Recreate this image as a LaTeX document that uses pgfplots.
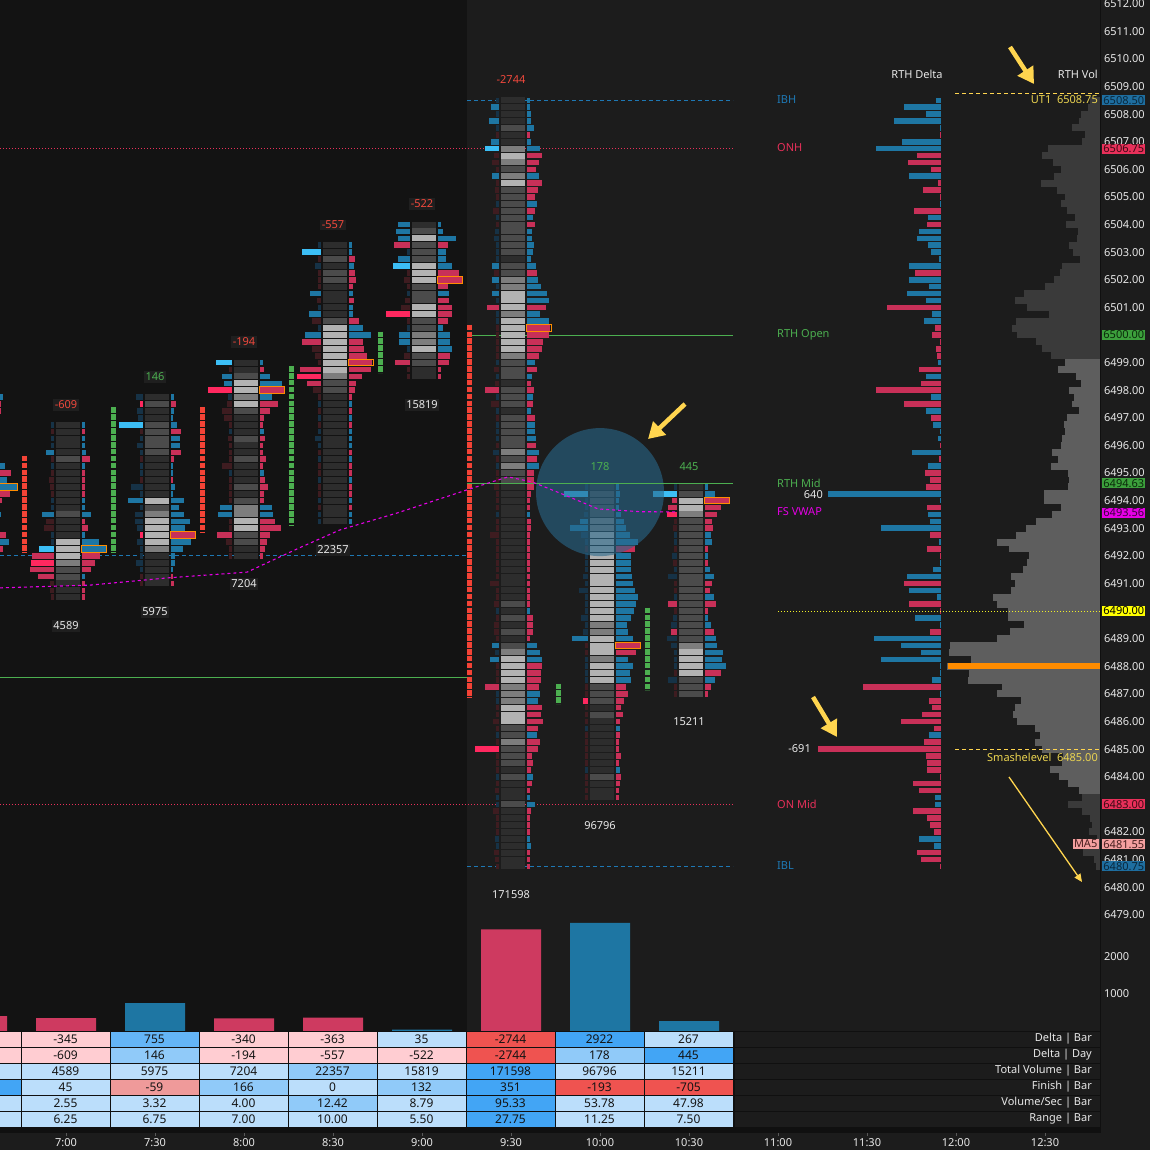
\documentclass[border=0pt]{standalone}
\usepackage{pgfplots}
\pgfplotsset{compat=1.18}
\usepackage{pgfplotstable}
\usepackage{fontspec}
\setmainfont{Noto Sans}
\usetikzlibrary{arrows.meta}

\definecolor{bgA}{RGB}{28,28,28}
\definecolor{bgB}{RGB}{19,19,19}
\definecolor{bgT}{RGB}{16,16,16}
\definecolor{cBlue}{RGB}{30,118,163}
\definecolor{cRed}{RGB}{200,48,88}
\definecolor{cRedV}{RGB}{206,58,96}
\definecolor{cGreen}{RGB}{76,175,80}
\definecolor{cMark}{RGB}{244,67,54}
\definecolor{cMag}{RGB}{230,0,230}
\definecolor{cYel}{RGB}{255,213,79}
\definecolor{cYtxt}{RGB}{235,212,80}
\definecolor{cYline}{RGB}{240,240,40}
\definecolor{cIB}{RGB}{30,120,180}
\definecolor{cON}{RGB}{232,48,90}
\definecolor{cOrg}{RGB}{255,140,0}
\definecolor{txt}{RGB}{232,232,232}
\definecolor{pDark}{RGB}{58,58,58}
\definecolor{pLight}{RGB}{94,94,94}
\definecolor{cPink}{RGB}{255,205,210}
\definecolor{cPale}{RGB}{187,222,251}
\definecolor{cMid}{RGB}{144,202,249}
\definecolor{cBl}{RGB}{100,181,246}
\definecolor{cStr}{RGB}{66,165,245}
\definecolor{cRd}{RGB}{239,83,80}
\definecolor{cSal}{RGB}{239,154,154}
\definecolor{cNegT}{RGB}{240,72,60}
\definecolor{lblBg}{RGB}{31,31,31}
\definecolor{bxBlue}{RGB}{30,110,160}
\definecolor{bxRed}{RGB}{232,48,90}
\definecolor{bxGreen}{RGB}{60,160,60}
\definecolor{bxMag}{RGB}{230,0,230}
\definecolor{bxYel}{RGB}{255,255,0}
\definecolor{bxSal}{RGB}{244,160,160}
\newcommand{\fnt}{\fontsize{11pt}{13pt}\selectfont}
\newcommand{\tfnt}{\fontsize{12pt}{14pt}\selectfont}

% footprint tables: price, bid length, bid colour, cell shade, ask length, ask colour
\pgfplotstableread{
p bl bc g al ac
6497.75 0 4 0 10 6
6497.50 0 4 0 8 7
6497.25 0 4 0 8 7
6495.25 0 4 0 12 6
6495.00 0 4 0 18 7
6494.75 0 4 0 14 6
6494.50 0 4 0 24 6
6494.25 0 4 0 17 7
6494.00 0 4 0 9 7
6493.50 0 4 0 8 6
6492.75 0 4 0 13 7
6492.50 0 4 0 16 6
6492.25 0 4 0 10 7
}\tZ
\pgfplotstableread{
p bl bc g al ac
6496.75 3 5 0 3 6
6496.50 3 4 0 3 7
6496.25 3 5 0 3 6
6496.00 3 5 0 3 6
6495.75 8 6 0 4 6
6495.50 3 4 1 8 7
6495.25 3 5 0 3 6
6495.00 3 4 0 3 7
6494.75 5 4 0 3 7
6494.50 4 4 0 3 7
6494.25 3 4 0 3 7
6494.00 3 5 0 3 6
6493.75 3 5 0 3 6
6493.50 12 6 1 9 6
6493.25 8 4 0 3 7
6493.00 10 4 0 6 7
6492.75 3 5 0 3 6
6492.50 3 5 3 17 6
6492.25 15 8 3 24 6
6492.00 22 7 3 18 7
6491.75 23 9 2 13 7
6491.50 24 7 1 9 7
6491.25 16 7 1 3 6
6491.00 4 4 0 3 7
6490.75 4 4 0 3 7
6490.50 3 4 0 3 7
}\tA
\pgfplotstableread{
p bl bc g al ac
6497.75 7 5 0 3 6
6497.50 3 9 1 5 7
6497.25 6 5 0 3 6
6497.00 5 5 0 2 6
6496.75 24 8 1 6 6
6496.50 3 4 1 10 7
6496.25 3 5 1 9 6
6496.00 6 5 1 9 6
6495.75 3 5 1 10 7
6495.50 3 4 0 3 7
6495.25 3 5 0 2 6
6495.00 3 5 0 2 6
6494.75 3 4 0 2 7
6494.50 12 5 0 4 6
6494.25 3 5 0 2 6
6494.00 15 6 3 13 6
6493.75 3 5 1 8 6
6493.50 8 5 2 13 6
6493.25 8 5 3 19 6
6493.00 6 5 3 14 6
6492.75 3 9 3 24 7
6492.50 6 5 3 20 6
6492.25 3 5 2 12 6
6492.00 3 5 0 4 6
6491.75 7 5 0 4 6
6491.50 3 5 0 2 6
6491.25 3 4 0 2 7
6491.00 3 4 0 3 7
}\tB
\pgfplotstableread{
p bl bc g al ac
6499.00 16 8 0 3 6
6498.75 3 4 0 4 7
6498.50 10 6 1 10 6
6498.25 8 6 3 22 6
6498.00 24 9 3 24 7
6497.75 4 5 2 12 6
6497.50 5 4 3 18 7
6497.25 10 4 1 10 7
6497.00 8 4 0 4 7
6496.75 3 4 0 3 7
6496.50 3 5 0 4 6
6496.25 4 4 1 5 7
6496.00 3 4 0 3 7
6495.75 3 4 0 3 7
6495.50 3 4 1 6 7
6495.25 10 4 0 3 7
6495.00 3 5 0 4 6
6494.75 3 4 0 5 7
6494.50 3 4 1 8 7
6494.25 3 4 0 4 7
6494.00 3 4 1 4 7
6493.75 12 6 2 12 6
6493.50 14 6 2 13 6
6493.25 3 4 3 15 7
6493.00 3 4 3 21 7
6492.75 15 7 1 10 7
6492.50 6 4 1 7 7
6492.25 3 4 0 5 7
6492.00 3 4 0 3 7
}\tC
\pgfplotstableread{
p bl bc g al ac
6503.25 3 5 0 3 6
6503.00 19 8 0 3 6
6502.75 3 4 1 6 7
6502.50 6 5 0 5 6
6502.25 3 4 1 6 7
6502.00 3 4 1 7 7
6501.75 3 4 0 4 7
6501.50 11 6 0 4 6
6501.25 4 4 0 5 7
6501.00 3 5 0 4 6
6500.75 12 6 0 4 6
6500.50 9 4 1 10 7
6500.25 3 5 3 14 6
6500.00 16 6 3 22 6
6499.75 19 7 3 14 7
6499.50 9 4 3 15 7
6499.25 6 4 3 18 7
6499.00 3 4 3 23 7
6498.75 21 7 3 22 7
6498.50 24 9 2 13 7
6498.25 14 7 1 7 7
6498.00 8 4 1 6 7
6497.75 3 4 0 3 7
6497.50 3 5 0 3 6
6497.25 3 4 0 3 7
6497.00 3 5 0 3 6
6496.75 3 4 0 3 7
6496.50 3 5 0 3 6
6496.25 6 5 0 3 6
6496.00 3 5 0 3 6
6495.75 3 4 0 3 7
6495.50 3 5 0 3 6
6495.25 3 4 0 3 7
6495.00 3 4 0 3 7
6494.75 3 5 0 3 6
6494.50 3 4 0 3 7
6494.25 3 4 0 3 7
6494.00 3 5 0 3 6
6493.75 3 4 0 3 7
6493.50 3 5 0 3 6
6493.25 3 5 0 3 6
}\tD
\pgfplotstableread{
p bl bc g al ac
6504.00 12 6 0 3 6
6503.75 14 6 1 5 6
6503.50 12 6 3 18 6
6503.25 16 7 1 10 7
6503.00 3 5 1 8 6
6502.75 12 6 1 8 6
6502.50 17 8 3 14 6
6502.25 3 4 3 21 7
6502.00 6 4 3 24 7
6501.75 3 4 1 10 7
6501.50 3 5 1 11 6
6501.25 5 4 1 11 7
6501.00 9 4 3 14 7
6500.75 24 9 3 14 7
6500.50 3 4 1 10 7
6500.25 3 5 1 5 6
6500.00 11 6 2 12 6
6499.75 11 6 2 12 6
6499.50 3 5 3 14 6
6499.25 6 4 1 12 7
6499.00 15 7 1 11 7
6498.75 3 4 0 3 7
6498.50 3 4 0 3 7
}\tE
\pgfplotstableread{
p bl bc g al ac
6508.50 3 5 0 3 6
6508.25 8 6 0 3 6
6508.00 3 5 0 4 6
6507.75 10 6 0 4 6
6507.50 3 5 1 7 6
6507.25 3 4 0 3 7
6507.00 8 6 0 4 6
6506.75 14 8 2 13 6
6506.50 5 4 3 15 7
6506.25 7 4 2 12 7
6506.00 3 4 1 9 7
6505.75 7 6 2 12 6
6505.50 3 4 3 15 7
6505.25 4 4 1 11 7
6505.00 3 4 1 8 7
6504.75 3 5 1 10 6
6504.50 6 4 1 8 7
6504.25 3 5 1 6 6
6504.00 3 4 1 8 7
6503.75 4 5 1 5 6
6503.50 5 5 1 5 6
6503.25 3 5 1 7 6
6503.00 3 5 1 6 6
6502.75 3 5 0 4 6
6502.50 7 6 1 9 6
6502.25 5 4 1 10 7
6502.00 7 6 2 11 6
6501.75 3 5 2 14 6
6501.50 7 6 3 20 6
6501.25 3 5 3 22 6
6501.00 12 7 3 19 7
6500.75 3 5 2 13 6
6500.50 3 5 3 22 6
6500.25 3 4 3 23 7
6500.00 3 4 3 22 7
6499.75 3 4 3 16 7
6499.50 3 4 3 15 7
6499.25 3 4 2 12 7
6499.00 3 5 1 8 6
6498.75 5 4 1 10 7
6498.50 3 5 1 5 6
6498.25 4 4 0 4 7
6498.00 14 7 1 7 7
6497.75 3 5 1 6 6
6497.50 8 4 1 6 7
6497.25 3 5 0 4 6
6497.00 3 4 1 8 7
6496.75 3 5 1 8 6
6496.50 3 5 1 8 6
6496.25 3 5 1 9 6
6496.00 3 4 1 9 7
6495.75 6 5 2 12 6
6495.50 3 4 1 10 7
6495.25 3 5 2 12 6
6495.00 3 4 1 7 7
6494.75 3 4 1 7 7
6494.50 5 4 0 7 7
6494.25 3 4 0 4 7
6494.00 3 4 0 3 7
6493.75 3 4 0 3 7
6493.50 3 5 0 3 6
6493.25 3 4 0 4 7
6493.00 3 4 0 4 7
6492.75 9 4 0 3 7
6492.50 3 4 0 3 7
6492.25 3 4 0 3 7
6492.00 3 4 0 3 7
6491.75 3 4 0 3 7
6491.50 3 4 0 3 7
6491.25 3 4 0 3 7
6491.00 9 4 0 3 7
6490.75 3 4 0 3 7
6490.50 3 4 0 3 7
6490.25 5 4 1 3 7
6490.00 3 5 0 3 6
6489.75 3 4 1 6 7
6489.50 5 4 0 6 7
6489.25 5 4 1 6 7
6489.00 3 4 0 3 7
6488.75 7 6 1 10 6
6488.50 4 5 2 13 6
6488.25 9 6 3 15 6
6488.00 3 4 3 15 7
6487.75 3 4 3 14 7
6487.50 3 4 3 14 7
6487.25 14 7 2 12 7
6487.00 3 5 2 13 6
6486.75 3 5 2 11 6
6486.50 3 4 3 15 7
6486.25 3 4 3 14 7
6486.00 6 4 3 16 7
6485.75 3 4 1 11 7
6485.50 3 5 1 10 6
6485.25 3 4 2 13 7
6485.00 24 9 1 11 7
6484.75 3 4 1 5 7
6484.50 3 4 1 6 7
6484.25 3 4 0 4 7
6484.00 3 5 1 6 6
6483.75 3 4 0 5 7
6483.50 4 4 0 3 7
6483.25 3 5 0 3 6
6483.00 3 5 1 8 6
6482.75 6 4 0 4 7
6482.50 3 4 0 3 7
6482.25 3 4 0 3 7
6482.00 3 4 0 3 7
6481.75 4 5 0 3 6
6481.50 3 5 0 4 6
6481.25 5 4 0 3 7
6481.00 4 4 0 3 7
6480.75 3 4 0 3 7
}\tF
\pgfplotstableread{
p bl bc g al ac
6494.50 3 5 0 3 6
6494.25 24 8 1 4 6
6494.00 3 5 1 3 6
6493.75 3 5 1 3 6
6493.50 4 5 1 5 6
6493.25 8 6 2 8 6
6493.00 18 6 2 10 6
6492.75 7 5 3 14 6
6492.50 3 5 3 22 6
6492.25 3 4 3 19 7
6492.00 3 5 3 15 6
6491.75 3 5 3 15 6
6491.50 3 5 3 15 6
6491.25 5 5 3 16 6
6491.00 3 5 3 17 6
6490.75 9 5 3 19 6
6490.50 3 5 3 22 6
6490.25 3 5 3 20 6
6490.00 3 5 3 18 6
6489.75 7 5 3 15 6
6489.50 3 5 2 11 6
6489.25 5 5 2 12 6
6489.00 16 6 3 17 6
6488.75 3 4 3 24 7
6488.50 3 4 3 20 7
6488.25 3 5 2 12 6
6488.00 3 5 3 17 6
6487.75 3 5 3 14 6
6487.50 3 5 3 15 6
6487.25 3 4 1 10 7
6487.00 3 4 1 12 7
6486.75 5 9 1 8 7
6486.50 3 4 0 5 7
6486.25 3 4 1 7 7
6486.00 3 4 0 4 7
6485.75 3 5 0 4 6
6485.50 3 4 0 4 7
6485.25 3 4 0 3 7
6485.00 3 4 0 3 7
6484.75 3 4 0 5 7
6484.50 3 4 0 3 7
6484.25 3 5 0 4 6
6484.00 3 4 1 5 7
6483.75 3 4 0 4 7
6483.50 3 4 0 3 7
6483.25 3 4 0 3 7
}\tG
\pgfplotstableread{
p bl bc g al ac
6494.50 3 5 0 3 6
6494.25 24 8 1 10 6
6494.00 5 7 3 24 7
6493.75 9 7 3 16 7
6493.50 10 9 2 12 7
6493.25 3 4 1 7 7
6493.00 4 4 1 8 7
6492.75 3 5 1 6 6
6492.50 3 5 1 7 6
6492.25 3 4 1 3 7
6492.00 5 5 1 3 6
6491.75 4 4 1 3 7
6491.50 3 5 1 5 6
6491.25 9 5 1 9 6
6491.00 3 4 1 7 7
6490.75 3 4 1 5 7
6490.50 3 5 1 9 6
6490.25 9 7 1 11 7
6490.00 3 4 1 3 7
6489.75 4 5 1 3 6
6489.50 6 5 1 6 6
6489.25 6 7 1 9 7
6489.00 10 5 1 11 6
6488.75 6 5 2 12 6
6488.50 3 5 3 18 6
6488.25 3 5 3 17 6
6488.00 3 5 3 21 6
6487.75 3 4 3 16 7
6487.50 9 5 1 10 6
6487.25 3 4 1 6 7
6487.00 3 4 1 3 7
}\tH
% POC frames: candle centre, price
\pgfplotstableread{
c p
-21 6494.50
68 6492.25
157 6492.75
246 6498.00
335 6499.00
424 6502.00
513 6500.25
602 6488.75
691 6494.00
}\tPOC
% RTH profile: price, left edge of volume bar (px), delta (signed length)
\pgfplotstableread{
p L d
6508.50 1090 5
6508.25 1088 37
6508.00 1081 15
6507.75 1079 47
6507.50 1072 1
6507.25 1085 -1
6507.00 1082 39
6506.75 1048 65
6506.50 1042 -24
6506.25 1053 -33
6506.00 1061 -10
6505.75 1054 32
6505.50 1041 -3
6505.25 1057 -18
6505.00 1065 -1
6504.75 1061 1
6504.50 1067 -27
6504.25 1075 13
6504.00 1066 -14
6503.75 1078 22
6503.50 1077 24
6503.25 1069 13
6503.00 1073 10
6502.75 1080 2
6502.50 1062 32
6502.25 1060 -26
6502.00 1054 32
6501.75 1045 12
6501.50 1024 34
6501.25 1015 15
6501.00 1027 -54
6500.75 1049 9
6500.50 1016 17
6500.25 1012 -6
6500.00 1017 -9
6499.75 1036 -1
6499.50 1042 -5
6499.25 1051 -4
6499.00 1065 3
6498.75 1058 -22
6498.50 1076 15
6498.25 1081 -20
6498.00 1069 -65
6497.75 1074 10
6497.50 1072 -37
6497.25 1079 15
6497.00 1067 -10
6496.75 1064 8
6496.50 1065 1
6496.25 1062 3
6496.00 1061 -1
6495.75 1052 29
6495.50 1058 -2
6495.25 1051 13
6495.00 1068 -16
6494.75 1069 -11
6494.50 1068 -15
6494.25 1044 113
6494.00 1044 1
6493.75 1061 -14
6493.50 1052 13
6493.25 1036 11
6493.00 1026 60
6492.75 1016 -11
6492.50 997 2
6492.25 1009 -14
6492.00 1029 -1
6491.75 1027 1
6491.50 1023 8
6491.25 1011 34
6491.00 1015 -37
6490.75 1011 32
6490.50 993 4
6490.25 997 -32
6490.00 1008 -1
6489.75 1008 26
6489.50 1024 1
6489.25 1010 -11
6489.00 997 67
6488.75 950 40
6488.50 949 20
6488.25 971 60
6488.00 947 1
6487.75 969 1
6487.50 968 9
6487.25 1002 -78
6487.00 997 1
6486.75 1021 -12
6486.50 1015 -9
6486.25 1013 -19
6486.00 1017 -40
6485.75 1035 -7
6485.50 1040 12
6485.25 1035 -17
6485.00 1042 -123
6484.75 1063 -15
6484.50 1062 -14
6484.25 1050 -14
6484.00 1059 -1
6483.75 1068 -28
6483.50 1079 -22
6483.25 1082 6
6483.00 1068 6
6482.75 1082 -28
6482.50 1090 -14
6482.25 1092 -11
6482.00 1089 -7
6481.75 1097 22
6481.50 1083 7
6481.25 1083 -24
6481.00 1094 -20
6480.75 1096 -1
}\tP

\newcommand{\candle}[2]{%
 \addplot[quiver={u=24,v=0,colored=mapped color}, line width=6pt, point meta=\thisrow{g}] table[x expr={#1-12}, y=p] {#2};
 \addplot[quiver={u=\thisrow{al},v=0,colored=mapped color}, line width=5.6pt, point meta=\thisrow{ac}] table[x expr={#1+14}, y=p] {#2};
 \addplot[quiver={u=\thisrow{bl},v=0,colored=mapped color}, line width=5.6pt, point meta=\thisrow{bc}] table[x expr={#1-14-\thisrow{bl}}, y=p] {#2};
}
\newcommand{\cell}[4]{%
 \fill[#3] ({(21+89*(#1)+0.5)*1pt},{-(1031+16*(#2)+0.5)*1pt}) rectangle ({(21+89*(#1)+88.5)*1pt},{-(1031+16*(#2)+15.5)*1pt});
 \node[text=black!92, inner sep=0pt, font=\tfnt] at ({(21+89*(#1)+44.5)*1pt},{-(1031+16*(#2)+8)*1pt}) {#4};}
\newcommand{\pbox}[4]{\node[anchor=west, fill=#2, text=#3, inner xsep=1.2pt, inner ysep=1pt] at (1102pt,-#1pt) {#4};}

\begin{document}
\begin{tikzpicture}[every node/.style={font=\fnt}]
\useasboundingbox (0pt,0pt) rectangle (1150pt,-1150pt);
\fill[bgA] (0pt,0pt) rectangle (1150pt,-1150pt);
\fill[bgB] (0pt,0pt) rectangle (467pt,-1031pt);

\begin{axis}[at={(0pt,-925pt)}, anchor=south west, scale only axis,
  width=1100pt, height=925pt, xmin=0, xmax=1100, ymin=6478.628, ymax=6512.135,
  axis line style={draw=none}, major tick length=0pt, xtick=\empty,
  ytick={6479,6480,...,6512}, yticklabel pos=right, scaled y ticks=false,
  /pgf/number format/assume math mode=true,
  yticklabel style={anchor=west, text=txt, xshift=0.5pt, /pgf/number format/fixed, /pgf/number format/fixed zerofill, /pgf/number format/precision=2, /pgf/number format/1000 sep={}},
  colormap={fp}{rgb255=(45,45,45) rgb255=(75,75,75) rgb255=(125,125,125) rgb255=(178,178,178) rgb255=(62,28,32) rgb255=(22,50,70) rgb255=(30,118,163) rgb255=(200,48,88) rgb255=(60,190,245) rgb255=(255,40,95)},
  point meta min=0, point meta max=9, clip=true]
% volume profile
\addplot[quiver={u={1100-\thisrow{L}},v=0}, draw=pDark, line width=6.95pt] table[x=L, y=p] {\tP};
\addplot[quiver={u={1100-\thisrow{L}},v=0}, draw=pLight, line width=6.95pt, restrict y to domain=6483.4:6499.1] table[x=L, y=p] {\tP};
\addplot[cOrg, line width=6pt] coordinates {(948,6488) (1100,6488)};
% RTH delta profile
\addplot[quiver={u=-\thisrow{d},v=0}, draw=cBlue, line width=5.6pt, restrict expr to domain={\thisrow{d}}{0.5:1000}] table[x expr=941, y=p] {\tP};
\addplot[quiver={u=\thisrow{d},v=0}, draw=cRed, line width=5.6pt, restrict expr to domain={\thisrow{d}}{-1000:-0.5}] table[x expr=941, y=p] {\tP};
% levels behind bars
\addplot[cON, line width=0.9pt, dash pattern=on 1pt off 2pt] coordinates {(0,6506.75) (733,6506.75)};
\addplot[cON, line width=0.9pt, dash pattern=on 1pt off 2pt] coordinates {(0,6483) (733,6483)};
\addplot[cIB, line width=0.9pt, dash pattern=on 4pt off 3pt] coordinates {(467,6508.5) (733,6508.5)};
\addplot[cIB, line width=0.9pt, dash pattern=on 4pt off 3pt] coordinates {(467,6480.75) (733,6480.75)};
\addplot[cIB, line width=0.9pt, dash pattern=on 4pt off 3pt] coordinates {(0,6492) (467,6492)};
\addplot[cGreen, line width=0.8pt] coordinates {(467,6500) (733,6500)};
\addplot[cGreen, line width=1.1pt] coordinates {(0,6487.6) (470,6487.6)};
% finish markers
\addplot[cMark, line width=5pt, dash pattern=on 5.6pt off 1.3pt] coordinates {(24,6495.625) (24,6492.125)};
\addplot[cGreen, line width=5pt, dash pattern=on 5.6pt off 1.3pt] coordinates {(113.5,6497.375) (113.5,6492.125)};
\addplot[cMark, line width=5pt, dash pattern=on 5.6pt off 1.3pt] coordinates {(202.5,6497.375) (202.5,6492.875)};
\addplot[cGreen, line width=5pt, dash pattern=on 5.6pt off 1.3pt] coordinates {(291.5,6498.875) (291.5,6493.125)};
\addplot[cGreen, line width=5pt, dash pattern=on 5.6pt off 1.3pt] coordinates {(380.5,6500.125) (380.5,6498.625)};
\addplot[cMark, line width=5pt, dash pattern=on 5.6pt off 1.3pt] coordinates {(469.5,6500.375) (469.5,6486.875)};
\addplot[cGreen, line width=5pt, dash pattern=on 5.6pt off 1.3pt] coordinates {(558.5,6487.375) (558.5,6486.625)};
\addplot[cGreen, line width=5pt, dash pattern=on 5.6pt off 1.3pt] coordinates {(647.5,6490.125) (647.5,6487.125)};
% POC frames
\addplot[quiver={u=26,v=0}, draw=cOrg, line width=7.6pt] table[x expr={\thisrow{c}+13}, y=p] {\tPOC};
\addplot[quiver={u=24,v=0}, draw=bgB, line width=5.6pt] table[x expr={\thisrow{c}+14}, y=p] {\tPOC};
% footprint candles
\candle{-21}{\tZ}
\candle{68}{\tA}
\candle{157}{\tB}
\candle{246}{\tC}
\candle{335}{\tD}
\candle{424}{\tE}
\candle{513}{\tF}
\candle{602}{\tG}
\candle{691}{\tH}
% highlight circle
\fill[fill={rgb,255:red,41;green,103;blue,138}, opacity=0.6] (axis cs:600,6494.31) circle[radius=64pt];
% levels over bars
\addplot[cGreen, line width=0.8pt] coordinates {(467,6494.63) (733,6494.63)};
\addplot[cMag, line width=1.1pt, dash pattern=on 3pt off 3pt] coordinates {(0,6490.84) (90,6490.94) (167,6491.20) (247,6491.41) (300,6492.30) (340,6492.94) (397,6493.55) (467,6494.39) (492,6494.68) (508,6494.86) (532,6494.68) (565,6494.20) (598,6493.70) (640,6493.60) (678,6493.59)};
\addplot[cYline, line width=0.9pt, dash pattern=on 1pt off 2pt] coordinates {(778,6490) (1100,6490)};
\addplot[cYel, line width=0.9pt, dash pattern=on 4pt off 3pt] coordinates {(955,6508.75) (1100,6508.75)};
\addplot[cYel, line width=0.9pt, dash pattern=on 4pt off 3pt] coordinates {(955,6485) (1100,6485)};
\end{axis}

% delta-per-bar panel
\begin{axis}[at={(0pt,-1031pt)}, anchor=south west, scale only axis,
  width=1100pt, height=111pt, xmin=0, xmax=1100, ymin=0, ymax=3000,
  axis line style={draw=none}, major tick length=0pt, xtick=\empty,
  ytick={1000,2000}, yticklabel pos=right, scaled y ticks=false,
  /pgf/number format/assume math mode=true,
  yticklabel style={anchor=west, text=txt, xshift=0.5pt, /pgf/number format/1000 sep={}},
  ybar, bar width=60pt, clip=true]
\addplot[fill=cRedV, draw=none, bar shift=0pt] coordinates {(-23,405) (66,345) (244,340) (333,363) (511,2744)};
\addplot[fill=cBlue, draw=none, bar shift=0pt] coordinates {(155,755) (422,35) (600,2922) (689,267)};
\end{axis}

% table
\fill[bgT] (0pt,-1031pt) rectangle (1100pt,-1133pt);
\fill[bgA] (0pt,-1133pt) rectangle (1100pt,-1150pt);
\foreach \r/\lab in {0/{Delta | Bar},1/{Delta | Day},2/{Total Volume | Bar},3/{Finish | Bar},4/{Volume/Sec | Bar},5/{Range | Bar}}{
  \fill[bgA] (734.5pt,{-(1031+16*\r+0.5)*1pt}) rectangle (1099.5pt,{-(1031+16*\r+15.5)*1pt});
  \node[anchor=east, text=txt, inner sep=0pt] at (1092pt,{-(1031+16*\r+8)*1pt}) {\lab};
}
\cell{-1}{0}{cPink}{}\cell{0}{0}{cPink}{-345}\cell{1}{0}{cBl}{755}\cell{2}{0}{cPink}{-340}\cell{3}{0}{cPink}{-363}\cell{4}{0}{cPale}{35}\cell{5}{0}{cRd}{-2744}\cell{6}{0}{cStr}{2922}\cell{7}{0}{cPale}{267}
\cell{-1}{1}{cPink}{}\cell{0}{1}{cPink}{-609}\cell{1}{1}{cMid}{146}\cell{2}{1}{cPink}{-194}\cell{3}{1}{cPink}{-557}\cell{4}{1}{cPink}{-522}\cell{5}{1}{cRd}{-2744}\cell{6}{1}{cMid}{178}\cell{7}{1}{cStr}{445}
\cell{-1}{2}{cPale}{}\cell{0}{2}{cPale}{4589}\cell{1}{2}{cPale}{5975}\cell{2}{2}{cPale}{7204}\cell{3}{2}{cMid}{22357}\cell{4}{2}{cPale}{15819}\cell{5}{2}{cStr}{171598}\cell{6}{2}{cPale}{96796}\cell{7}{2}{cPale}{15211}
\cell{-1}{3}{cStr}{}\cell{0}{3}{cPale}{45}\cell{1}{3}{cSal}{-59}\cell{2}{3}{cMid}{166}\cell{3}{3}{cPale}{0}\cell{4}{3}{cMid}{132}\cell{5}{3}{cStr}{351}\cell{6}{3}{cRd}{-193}\cell{7}{3}{cRd}{-705}
\cell{-1}{4}{cPale}{}\cell{0}{4}{cPale}{2.55}\cell{1}{4}{cPale}{3.32}\cell{2}{4}{cPale}{4.00}\cell{3}{4}{cMid}{12.42}\cell{4}{4}{cPale}{8.79}\cell{5}{4}{cStr}{95.33}\cell{6}{4}{cPale}{53.78}\cell{7}{4}{cPale}{47.98}
\cell{-1}{5}{cPale}{}\cell{0}{5}{cPale}{6.25}\cell{1}{5}{cPale}{6.75}\cell{2}{5}{cPale}{7.00}\cell{3}{5}{cPale}{10.00}\cell{4}{5}{cPale}{5.50}\cell{5}{5}{cStr}{27.75}\cell{6}{5}{cPale}{11.25}\cell{7}{5}{cPale}{7.50}

% time axis
\begin{axis}[at={(0pt,-1133pt)}, anchor=south west, scale only axis,
  width=1100pt, height=102pt, xmin=0, xmax=1100, ymin=0, ymax=1,
  axis line style={draw=none}, major tick length=0pt, ytick=\empty,
  xtick={66,155,...,1045},
  xticklabels={7:00,7:30,8:00,8:30,9:00,9:30,10:00,10:30,11:00,11:30,12:00,12:30},
  xticklabel style={text=txt, yshift=-2pt}]
\end{axis}
\foreach \x in {66,155,...,1045}{\draw[black!65] (\x pt,-1133pt) -- (\x pt,-1136pt);}
\draw[bgT, line width=1pt] (1100.5pt,0pt) -- (1100.5pt,-1133pt);

% candle labels
\begin{scope}[every node/.append style={fill=lblBg, inner sep=1.5pt}]
\node[text=cNegT] at (66pt,-405pt) {-609};
\node[text=cGreen] at (155pt,-377pt) {146};
\node[text=cNegT] at (244pt,-342pt) {-194};
\node[text=cNegT] at (333pt,-225pt) {-557};
\node[text=cNegT] at (422pt,-204pt) {-522};
\node[text=txt] at (66pt,-626pt) {4589};
\node[text=txt] at (155pt,-612pt) {5975};
\node[text=txt] at (244pt,-584pt) {7204};
\node[text=txt] at (333pt,-550pt) {22357};
\node[text=txt] at (422pt,-405pt) {15819};
\end{scope}
\node[text=cNegT] at (511pt,-80pt) {-2744};
\node[text=txt] at (511pt,-895pt) {171598};
\node[text=cGreen] at (600pt,-467pt) {178};
\node[text=txt] at (600pt,-826pt) {96796};
\node[text=cGreen] at (689pt,-467pt) {445};
\node[text=txt] at (689pt,-722pt) {15211};

% level labels
\node[anchor=west, text=cIB, inner sep=0pt] at (777pt,-100pt) {IBH};
\node[anchor=west, text=cON, inner sep=0pt] at (777pt,-148pt) {ONH};
\node[anchor=west, text=cGreen, inner sep=0pt] at (777pt,-335pt) {RTH Open};
\node[anchor=west, text=cGreen, inner sep=0pt] at (777pt,-483pt) {RTH Mid};
\node[anchor=east, text=txt, inner sep=0pt] at (823pt,-495pt) {640};
\node[anchor=west, text=cMag, inner sep=0pt] at (777pt,-512pt) {FS VWAP};
\node[anchor=east, text=txt, inner sep=0pt] at (811pt,-749pt) {-691};
\node[anchor=west, text=cON, inner sep=0pt] at (777pt,-804pt) {ON Mid};
\node[anchor=west, text=cIB, inner sep=0pt] at (777pt,-866pt) {IBL};
\node[text=txt] at (917pt,-74pt) {RTH Delta};
\node[anchor=east, text=txt, inner sep=0pt] at (1098pt,-74pt) {RTH Vol};
\node[anchor=east, text=cYtxt, inner sep=0pt] at (1098pt,-100pt) {UT1\ \ 6508.75};
\node[anchor=east, text=cYtxt, inner sep=0pt] at (1098pt,-757pt) {Smashelevel\ \ 6485.00};
\node[anchor=east, fill=bxSal, text={rgb,255:red,70;green,30;blue,30}, inner xsep=1.5pt, inner ysep=1pt] at (1099pt,-844pt) {MA5};

% price boxes
\pbox{100.4}{bxBlue}{{rgb,255:red,10;green,40;blue,60}}{6508.50}
\pbox{148.7}{bxRed}{{rgb,255:red,60;green,10;blue,20}}{6506.75}
\pbox{335}{bxGreen}{{rgb,255:red,10;green,40;blue,10}}{6500.00}
\pbox{483.2}{bxGreen}{{rgb,255:red,10;green,40;blue,10}}{6494.63}
\pbox{512.8}{bxMag}{{rgb,255:red,60;green,0;blue,60}}{6493.56}
\pbox{611}{bxYel}{black}{6490.00}
\pbox{804.3}{bxRed}{{rgb,255:red,60;green,10;blue,20}}{6483.00}
\pbox{844.3}{bxSal}{{rgb,255:red,70;green,30;blue,30}}{6481.55}
\pbox{866.4}{bxBlue}{{rgb,255:red,10;green,40;blue,60}}{6480.75}

% annotation arrows
\draw[cYel, line width=4.5pt, -{Triangle[length=16pt,width=18pt]}] (1010pt,-47pt) -- (1034pt,-84pt);
\draw[cYel, line width=4.5pt, -{Triangle[length=16pt,width=18pt]}] (685pt,-404pt) -- (648pt,-439pt);
\draw[cYel, line width=4.5pt, -{Triangle[length=16pt,width=18pt]}] (813pt,-697pt) -- (837pt,-737pt);
\draw[cYel, line width=1.3pt, -{Triangle[length=8pt,width=7pt]}] (1009pt,-777pt) -- (1082pt,-882pt);
\end{tikzpicture}
\end{document}
